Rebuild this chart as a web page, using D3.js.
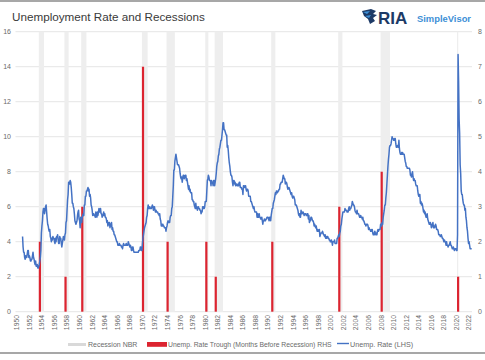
<!DOCTYPE html>
<html><head><meta charset="utf-8">
<script src="https://cdn.jsdelivr.net/npm/d3@7"></script>
<style>body{margin:0;background:#fff}svg{display:block}text{font-family:"Liberation Sans",Arial,sans-serif}</style>
</head><body><svg id="c" width="485" height="360"></svg>
<script>
// ---------- DATA ----------
const unempStart = [1950, 12]; // first month of the series
const unemp1950s = [4.3,
 3.7,3.4,3.4,3.1,3.0,3.2,3.1,3.1,3.3,3.5,3.5,3.1,
 3.2,3.1,2.9,2.9,3.0,3.0,3.2,3.4,3.1,3.0,2.8,2.7,
 2.9,2.6,2.6,2.7,2.5,2.5,2.6,2.7,2.9,3.1,3.5,4.5,
 4.9,5.2,5.7,5.9,5.9,5.6,5.8,6.0,6.1,5.7,5.3,5.0,
 4.9,4.7,4.6,4.7,4.3,4.2,4.0,4.2,4.1,4.3,4.2,4.2,
 4.0,3.9,4.2,4.0,4.3,4.3,4.4,4.1,3.9,3.9,4.3,4.2,
 4.2,3.9,3.7,3.9,4.1,4.3,4.2,4.1,4.4,4.5,5.1,5.2,
 5.8,6.4,6.7,7.4,7.4,7.3,7.5,7.4,7.1,6.7,6.2,6.2,
 6.0,5.9,5.6,5.2,5.1,5.0,5.1,5.2,5.5,5.7,5.8,5.3];
const unemp1960s = [
 5.2,4.8,5.4,5.2,5.1,5.4,5.5,5.6,5.5,6.1,6.1,6.6,
 6.6,6.9,6.9,7.0,7.1,6.9,7.0,6.6,6.7,6.5,6.1,6.0,
 5.8,5.5,5.6,5.6,5.5,5.5,5.4,5.7,5.6,5.4,5.7,5.5,
 5.7,5.9,5.7,5.7,5.9,5.6,5.6,5.4,5.5,5.5,5.7,5.5,
 5.6,5.4,5.4,5.3,5.1,5.2,4.9,5.0,5.1,5.1,4.8,5.0,
 4.9,5.1,4.7,4.8,4.6,4.6,4.4,4.4,4.3,4.2,4.1,4.0,
 4.0,3.8,3.8,3.8,3.9,3.8,3.8,3.8,3.7,3.7,3.6,3.8,
 3.9,3.8,3.8,3.8,3.8,3.9,3.8,3.8,3.8,4.0,3.9,3.8,
 3.7,3.8,3.7,3.5,3.5,3.7,3.7,3.5,3.4,3.4,3.4,3.4,
 3.4,3.4,3.4,3.4,3.4,3.5,3.5,3.5,3.7,3.7,3.5,3.5];
const unemp1970s = [
 3.9,4.2,4.4,4.6,4.8,4.9,5.0,5.1,5.4,5.5,5.9,6.1,
 5.9,5.9,6.0,5.9,5.9,5.9,6.0,6.1,6.0,5.8,6.0,6.0,
 5.8,5.7,5.8,5.7,5.7,5.7,5.6,5.6,5.5,5.6,5.3,5.2,
 4.9,5.0,4.9,5.0,4.9,4.9,4.8,4.8,4.8,4.6,4.8,4.9,
 5.1,5.2,5.1,5.1,5.1,5.4,5.5,5.5,5.9,6.0,6.6,7.2,
 8.1,8.1,8.6,8.8,9.0,8.8,8.6,8.4,8.4,8.4,8.3,8.2,
 7.9,7.7,7.6,7.7,7.4,7.6,7.8,7.8,7.6,7.7,7.8,7.8,
 7.5,7.6,7.4,7.2,7.0,7.2,6.9,7.0,6.8,6.8,6.8,6.4,
 6.4,6.3,6.3,6.1,6.0,5.9,6.2,5.9,6.0,5.8,5.9,6.0,
 5.9,5.9,5.8,5.8,5.6,5.7,5.7,6.0,5.9,6.0,5.9,6.0];
const unemp1980s = [
 6.3,6.3,6.3,6.9,7.5,7.6,7.8,7.7,7.5,7.5,7.5,7.2,
 7.5,7.4,7.4,7.2,7.5,7.5,7.2,7.4,7.6,7.9,8.3,8.5,
 8.6,8.9,9.0,9.3,9.4,9.6,9.8,9.8,10.1,10.4,10.8,10.8,
 10.4,10.4,10.3,10.2,10.1,10.1,9.4,9.5,9.2,8.8,8.5,8.3,
 8.0,7.8,7.8,7.7,7.4,7.2,7.5,7.5,7.3,7.4,7.2,7.3,
 7.3,7.2,7.2,7.3,7.2,7.4,7.4,7.1,7.1,7.1,7.0,7.0,
 6.7,7.2,7.2,7.1,7.2,7.2,7.0,6.9,7.0,7.0,6.9,6.6,
 6.6,6.6,6.6,6.3,6.3,6.2,6.1,6.0,5.9,6.0,5.8,5.7,
 5.7,5.7,5.7,5.4,5.6,5.4,5.4,5.6,5.4,5.4,5.3,5.3,
 5.4,5.2,5.0,5.2,5.2,5.3,5.2,5.2,5.3,5.3,5.4,5.4];
const unemp1990s = [
 5.4,5.3,5.2,5.4,5.4,5.2,5.5,5.7,5.9,5.9,6.2,6.3,
 6.4,6.6,6.8,6.7,6.9,6.9,6.8,6.9,6.9,7.0,7.0,7.3,
 7.3,7.4,7.4,7.4,7.6,7.8,7.7,7.6,7.6,7.3,7.4,7.4,
 7.3,7.1,7.0,7.1,7.1,7.0,6.9,6.8,6.7,6.8,6.6,6.5,
 6.6,6.6,6.5,6.4,6.1,6.1,6.1,6.0,5.9,5.8,5.6,5.5,
 5.6,5.4,5.4,5.8,5.6,5.6,5.7,5.7,5.6,5.5,5.6,5.6,
 5.6,5.5,5.5,5.6,5.6,5.3,5.5,5.1,5.2,5.2,5.4,5.4,
 5.3,5.2,5.2,5.1,4.9,5.0,4.9,4.8,4.9,4.7,4.6,4.7,
 4.6,4.6,4.7,4.3,4.4,4.5,4.5,4.5,4.6,4.5,4.4,4.4,
 4.3,4.4,4.2,4.3,4.2,4.3,4.3,4.2,4.2,4.1,4.1,4.0];
const unemp2000s = [
 4.0,4.1,4.0,3.8,4.0,4.0,4.0,4.1,3.9,3.9,3.9,3.9,
 4.2,4.2,4.3,4.4,4.3,4.5,4.6,4.9,5.0,5.3,5.5,5.7,
 5.7,5.7,5.7,5.9,5.8,5.8,5.8,5.7,5.7,5.7,5.9,6.0,
 5.8,5.9,5.9,6.0,6.1,6.3,6.2,6.1,6.1,6.0,5.8,5.7,
 5.7,5.6,5.8,5.6,5.6,5.6,5.5,5.4,5.4,5.5,5.4,5.4,
 5.3,5.4,5.2,5.2,5.1,5.0,5.0,4.9,5.0,5.0,5.0,4.9,
 4.7,4.8,4.7,4.7,4.6,4.6,4.7,4.7,4.5,4.4,4.5,4.4,
 4.6,4.5,4.4,4.5,4.4,4.6,4.7,4.6,4.7,4.7,4.7,5.0,
 5.0,4.9,5.1,5.0,5.4,5.6,5.8,6.1,6.1,6.5,6.8,7.3,
 7.8,8.3,8.7,9.0,9.4,9.5,9.5,9.6,9.8,10.0,9.9,9.9];
const unemp2010s = [
 9.8,9.8,9.9,9.9,9.6,9.4,9.4,9.5,9.5,9.4,9.8,9.3,
 9.1,9.0,9.0,9.1,9.0,9.1,9.0,9.0,9.0,8.8,8.6,8.5,
 8.3,8.3,8.2,8.2,8.2,8.2,8.2,8.1,7.8,7.8,7.7,7.9,
 8.0,7.7,7.5,7.6,7.5,7.5,7.3,7.2,7.2,7.2,6.9,6.7,
 6.6,6.7,6.7,6.2,6.3,6.1,6.2,6.1,5.9,5.7,5.8,5.6,
 5.7,5.5,5.4,5.4,5.6,5.3,5.2,5.1,5.0,5.0,5.1,5.0,
 4.8,4.9,5.0,5.1,4.8,4.9,4.8,4.9,5.0,4.9,4.7,4.7,
 4.7,4.6,4.4,4.4,4.4,4.3,4.3,4.4,4.3,4.2,4.2,4.1,
 4.0,4.1,4.0,4.0,3.8,4.0,3.8,3.8,3.7,3.8,3.8,3.9,
 4.0,3.8,3.8,3.7,3.6,3.6,3.7,3.6,3.5,3.6,3.6,3.6];
const unemp2020s = [
 3.5,3.5,4.4,14.7,13.2,11.0,10.2,8.4,7.9,6.9,6.7,6.7,
 6.4,6.2,6.1,6.1,5.8,5.9,5.4,5.2,4.8,4.6,4.2,3.9,
 4.0,3.8,3.6,3.6,3.6,3.6];

const recessionStart = ["1953-07","1957-08","1960-04","1969-12","1973-11","1980-01","1981-07","1990-07","2001-03","2007-12","2020-02"];
const recessionEnd   = ["1954-05","1958-04","1961-02","1970-11","1975-03","1980-07","1982-11","1991-03","2001-11","2009-06","2020-04"];
const troughMonthsBefore = [2,1,3,7,2,2,1,2,3,4,1];

const xTickYears = d3.range(1950, 2023, 2);
const leftTicks = [0,2,4,6,8,10,12,14,16];
const rightTicks = [0,1,2,3,4,5,6,7,8];

const titleText = "Unemployment Rate and Recessions";
const legendLabels = ["Recession NBR","Unemp. Rate Trough (Months Before Recession) RHS","Unemp. Rate (LHS)"];

// ---------- BUILD ----------
const ym = s => { const [y,m] = s.split("-").map(Number); return y + (m-1)/12; };
const allRates = [].concat(unemp1950s, unemp1960s, unemp1970s, unemp1980s, unemp1990s, unemp2000s, unemp2010s, unemp2020s);
const series = allRates.map((v,i) => ({t: unempStart[0] + (unempStart[1]-1+i)/12, v}));
const recessions = recessionStart.map((s,i) => ({s: ym(s), e: ym(recessionEnd[i]), m: troughMonthsBefore[i]}));

const svg = d3.select("#c");
const x = d3.scaleLinear().domain([1950, 2022.5]).range([16.8, 472.2]);
const yL = d3.scaleLinear().domain([0,16]).range([311.7, 31.7]);
const yR = d3.scaleLinear().domain([0,8]).range([311.7, 31.7]);
const labelColor = "#6a6a6a";

// frame lines
svg.append("line").attr("x1",0).attr("x2",485).attr("y1",1).attr("y2",1).attr("stroke","#8a8a8a").attr("stroke-width",1.6);
svg.append("line").attr("x1",0).attr("x2",485).attr("y1",353).attr("y2",353).attr("stroke","#8a8a8a").attr("stroke-width",1.6);

// title
svg.append("text").attr("x",12).attr("y",21).attr("font-size",11.7).attr("fill","#3a3a3a").text(titleText);

// logo
const logo = svg.append("g").attr("transform","translate(362,9)");
logo.append("path").attr("d","M0,2 L9,0 L14,2 L11,5 L15,6 L11,9 L13,12 L8,15 L6,10 L2,7 Z").attr("fill","#1d3a66");
logo.append("path").attr("d","M1,3 L8,2 L5,5 Z M3,7 L9,6 L7,9 Z").attr("fill","#3d8fd6");
svg.append("text").attr("x",378).attr("y",24).attr("font-size",17).attr("font-weight","bold").attr("fill","#1d3a66").text("RIA");
svg.append("text").attr("x",417).attr("y",22).attr("font-size",9.4).attr("font-weight","bold").attr("fill","#3d8fd6").text("SimpleVisor");

// gridlines
svg.append("g").selectAll("line").data(leftTicks).join("line")
  .attr("x1",15.5).attr("x2",472).attr("y1",d=>yL(d)).attr("y2",d=>yL(d))
  .attr("stroke","#dedede").attr("stroke-width",0.8);

// recession bands
svg.append("g").selectAll("rect").data(recessions).join("rect")
  .attr("x",d=>x(d.s)).attr("width",d=>Math.max(1.2, x(d.e)-x(d.s)))
  .attr("y",yL(16)).attr("height",yL(0)-yL(16)).attr("fill","#eeeeee");

// trough bars (RHS)
svg.append("g").selectAll("rect").data(recessions).join("rect")
  .attr("x",d=>x(d.s)).attr("width",2.2)
  .attr("y",d=>yR(d.m)).attr("height",d=>yR(0)-yR(d.m)).attr("fill","#dc2430");

// unemployment line
svg.append("path").datum(series)
  .attr("d", d3.line().x(d=>x(d.t)).y(d=>yL(d.v)))
  .attr("fill","none").attr("stroke","#4472c4").attr("stroke-width",1.5).attr("stroke-linejoin","round");

// left axis labels
svg.append("g").selectAll("text").data(leftTicks).join("text")
  .attr("x",11).attr("y",d=>yL(d)).attr("dy","0.35em").attr("text-anchor","end")
  .attr("font-size",7).attr("fill",labelColor).text(d=>d);
// right axis labels
svg.append("g").selectAll("text").data(rightTicks).join("text")
  .attr("x",478).attr("y",d=>yR(d)).attr("dy","0.35em").attr("text-anchor","start")
  .attr("font-size",7).attr("fill",labelColor).text(d=>d);
// x labels rotated
svg.append("g").selectAll("text").data(xTickYears).join("text")
  .attr("transform",d=>`translate(${x(d)},315) rotate(-90)`)
  .attr("dy","0.35em").attr("text-anchor","end")
  .attr("font-size",6.8).attr("fill",labelColor).text(d=>d);

// legend
const lg = svg.append("g");
lg.append("rect").attr("x",68).attr("y",343).attr("width",18).attr("height",3).attr("fill","#d9d9d9");
lg.append("text").attr("x",88).attr("y",344.5).attr("dy","0.35em").attr("font-size",7).attr("fill",labelColor).text(legendLabels[0]);
lg.append("rect").attr("x",147).attr("y",342).attr("width",20).attr("height",4.8).attr("fill","#dc2430");
lg.append("text").attr("x",168).attr("y",344.5).attr("dy","0.35em").attr("font-size",6.8).attr("fill",labelColor).text(legendLabels[1]);
lg.append("line").attr("x1",337).attr("x2",349).attr("y1",343.5).attr("y2",343.5).attr("stroke","#4472c4").attr("stroke-width",1.4);
lg.append("text").attr("x",350).attr("y",344.5).attr("dy","0.35em").attr("font-size",7.2).attr("fill",labelColor).text(legendLabels[2]);
</script></body></html>
